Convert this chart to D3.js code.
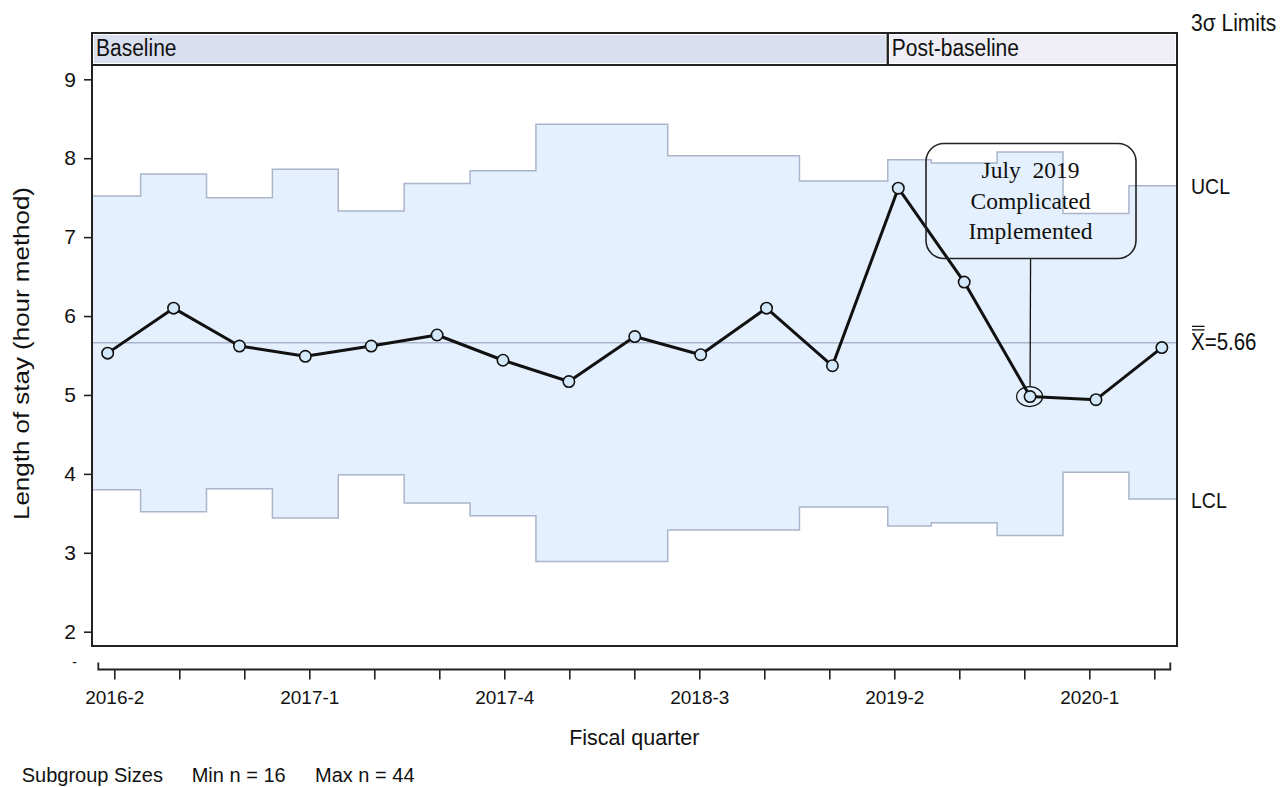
<!DOCTYPE html>
<html>
<head>
<meta charset="utf-8">
<script src="https://cdn.jsdelivr.net/npm/d3@7"></script>
<style>
  html, body { margin: 0; padding: 0; background: #fff; }
  svg { display: block; }
  text { font-family: "Liberation Sans", Arial, sans-serif; fill: #111; }
</style>
</head>
<body>
<svg id="chart" width="1280" height="787"></svg>
<script>
// ---------------- data ----------------
const quarters = ["2016-2","2016-3","2016-4","2017-1","2017-2","2017-3","2017-4","2018-1","2018-2",
                  "2018-3","2018-4","2019-1","2019-2","2019-3","2019-4","2020-1","2020-2"];
const tickLabels = ["2016-2","2017-1","2017-4","2018-3","2019-2","2020-1"];
const losValues = [5.53,6.10,5.62,5.49,5.62,5.76,5.44,5.17,5.74,5.51,6.10,5.37,7.62,6.43,4.98,4.94,5.60];
const uclValues = [7.52,7.80,7.50,7.86,7.33,7.68,7.84,8.43,8.43,8.03,8.03,7.71,7.98,7.94,8.08,7.30,7.65];
const lclValues = [3.80,3.52,3.81,3.44,3.99,3.63,3.47,2.89,2.89,3.29,3.29,3.58,3.34,3.38,3.22,4.02,3.68];
const meanValue = 5.66;
const phaseNames = ["Baseline","Post-baseline"];
const phaseStartIndex = [0, 12];
const yTicks = [2,3,4,5,6,7,8,9];
const annotationIndex = 14;
const annotationLines = ["July  2019","Complicated","Implemented"];
const subgroupTexts = ["Subgroup Sizes","Min n = 16","Max n = 44"];

// ---------------- layout ----------------
const plot = {left: 92, right: 1177, top: 65, bottom: 646, headerTop: 33};
const svg = d3.select("#chart");

const x = d3.scaleLinear().domain([-0.238, 16.23]).range([plot.left, plot.right]);
const y = d3.scaleLinear().domain([2, 9]).range([631.7, 79.3]);
const xAxisScale = d3.scalePoint().domain(quarters).range([114.3, 1154.3]);

const phaseBreak = 11.84; // position of baseline/post-baseline split (index units)

function stretchText(txt, px, py, size, sy) {
  return svg.append("text").text(txt)
    .attr("transform", `translate(${px},${py}) scale(1,${sy})`)
    .style("font-size", size + "px");
}

// step edges
const edges = quarters.map((q, i) => i === 0 ? x.domain()[0] : (i === phaseStartIndex[1] ? phaseBreak : i - 0.5));
edges.push(x.domain()[1]);
const stepPts = [];
quarters.forEach((q, i) => {
  stepPts.push({e: edges[i], i});
  stepPts.push({e: edges[i + 1], i});
});

const colBand = "#e4f0fd";
const colLimit = "#aab4cc";

// band
svg.append("path")
  .datum(stepPts)
  .attr("d", d3.area().x(d => x(d.e)).y0(d => y(lclValues[d.i])).y1(d => y(uclValues[d.i])))
  .attr("fill", colBand);

// limit lines
[uclValues, lclValues].forEach(arr => {
  svg.append("path")
    .datum(stepPts)
    .attr("d", d3.line().x(d => x(d.e)).y(d => y(arr[d.i])))
    .attr("fill", "none").attr("stroke", colLimit).attr("stroke-width", 1.5);
});

// mean line
svg.append("line")
  .attr("x1", plot.left).attr("x2", plot.right)
  .attr("y1", y(meanValue)).attr("y2", y(meanValue))
  .attr("stroke", colLimit).attr("stroke-width", 1.5);

// data line
svg.append("path")
  .datum(losValues)
  .attr("d", d3.line().x((d, i) => x(i)).y(d => y(d)))
  .attr("fill", "none").attr("stroke", "#111").attr("stroke-width", 3).attr("stroke-linejoin", "round");

svg.selectAll("circle.pt").data(losValues).join("circle")
  .attr("class", "pt")
  .attr("cx", (d, i) => x(i)).attr("cy", d => y(d)).attr("r", 5.7)
  .attr("fill", "#d3e8f8").attr("stroke", "#111").attr("stroke-width", 1.6);

// annotation
const ax = x(annotationIndex), ay = y(losValues[annotationIndex]);
svg.append("ellipse").attr("cx", ax - 0.5).attr("cy", ay).attr("rx", 13).attr("ry", 10)
  .attr("fill", "none").attr("stroke", "#111").attr("stroke-width", 1.3);
const box = {x: 926, y: 143.5, w: 210, h: 115};
svg.append("line").attr("x1", ax + 0.5).attr("x2", ax).attr("y1", box.y + box.h).attr("y2", ay - 10)
  .attr("stroke", "#111").attr("stroke-width", 1.3);
svg.append("rect").attr("x", box.x).attr("y", box.y).attr("width", box.w).attr("height", box.h)
  .attr("rx", 18).attr("fill", "none").attr("stroke", "#222").attr("stroke-width", 1.6);
annotationLines.forEach((t, k) => {
  svg.append("text").text(t)
    .attr("x", box.x + box.w / 2 - 0.5).attr("y", 178 + k * 30.7)
    .attr("text-anchor", "middle")
    .style("white-space", "pre")
    .style("font-family", "'Liberation Serif', 'Times New Roman', serif")
    .style("font-size", "23.5px");
});

// frame
svg.append("rect").attr("x", plot.left).attr("y", plot.top)
  .attr("width", plot.right - plot.left).attr("height", plot.bottom - plot.top)
  .attr("fill", "none").attr("stroke", "#222").attr("stroke-width", 2);

// header
const phaseX = [plot.left, x(phaseBreak), plot.right];
const phaseFill = ["#d9dfee", "#efeef6"];
phaseNames.forEach((p, k) => {
  svg.append("rect").attr("x", phaseX[k] + 2).attr("y", plot.headerTop + 2)
    .attr("width", phaseX[k + 1] - phaseX[k] - 4).attr("height", plot.top - plot.headerTop - 4)
    .attr("fill", phaseFill[k]);
  svg.append("rect").attr("x", phaseX[k]).attr("y", plot.headerTop)
    .attr("width", phaseX[k + 1] - phaseX[k]).attr("height", plot.top - plot.headerTop)
    .attr("fill", "none").attr("stroke", "#222").attr("stroke-width", 2);
  stretchText(p, phaseX[k] + 4, 55.5, 21, 1.14);
});

// y axis
const yAxis = svg.append("g").attr("transform", `translate(${plot.left},0)`)
  .call(d3.axisLeft(y).tickValues(yTicks).tickSize(8).tickPadding(8).tickFormat(d3.format("d")));
yAxis.select(".domain").remove();
yAxis.selectAll(".tick line").attr("stroke", "#222").attr("stroke-width", 1.6);
yAxis.selectAll(".tick text").style("font-size", "21px").style("font-family", "'Liberation Sans', Arial, sans-serif").attr("fill", "#111");
svg.append("text").text("-").attr("x", 77).attr("y", 667).attr("text-anchor", "end").style("font-size", "14px");

// y label
svg.append("text").text("Length of stay (hour method)")
  .attr("transform", "translate(28.5,353.5) rotate(-90)")
  .attr("text-anchor", "middle")
  .attr("textLength", 333).attr("lengthAdjust", "spacingAndGlyphs")
  .style("font-size", "21.5px");

// x axis
const axisY = 669.5;
const xAxis = svg.append("g").attr("transform", `translate(0,${axisY})`)
  .call(d3.axisBottom(xAxisScale).tickSize(10).tickPadding(11)
    .tickFormat(d => tickLabels.includes(d) ? d : ""));
xAxis.select(".domain").remove();
xAxis.selectAll(".tick line").attr("stroke", "#222").attr("stroke-width", 1.6);
xAxis.selectAll(".tick text").style("font-size", "19px").style("font-family", "'Liberation Sans', Arial, sans-serif").attr("fill", "#111");
const r = xAxisScale.range();
svg.append("path")
  .attr("d", `M${r[0] - 16},${axisY - 7}V${axisY}H${r[1] + 16}V${axisY - 7}`)
  .attr("fill", "none").attr("stroke", "#222").attr("stroke-width", 1.8);

svg.append("text").text("Fiscal quarter")
  .attr("x", (r[0] + r[1]) / 2).attr("y", 745).attr("text-anchor", "middle")
  .style("font-size", "21.5px");

// right labels
const rx = 1191;
stretchText("3σ Limits", rx, 31, 21, 1.1);
stretchText("UCL", rx, y(uclValues[16]) + 8.5, 19.5, 1.15);
stretchText("LCL", rx, y(lclValues[16]) + 8.5, 19.5, 1.15);
const my = y(meanValue) + 7;
stretchText("X=5.66", rx, my, 20.5, 1.15);
[-23.5, -20].forEach(dy => {
  svg.append("line").attr("x1", rx + 1).attr("x2", rx + 13.5).attr("y1", my + dy).attr("y2", my + dy)
    .attr("stroke", "#111").attr("stroke-width", 1.3);
});

// subgroup sizes
const subX = [21.7, 191.7, 315];
subgroupTexts.forEach((t, k) => {
  svg.append("text").text(t).attr("x", subX[k]).attr("y", 782).style("font-size", "20px");
});
</script>
</body>
</html>
